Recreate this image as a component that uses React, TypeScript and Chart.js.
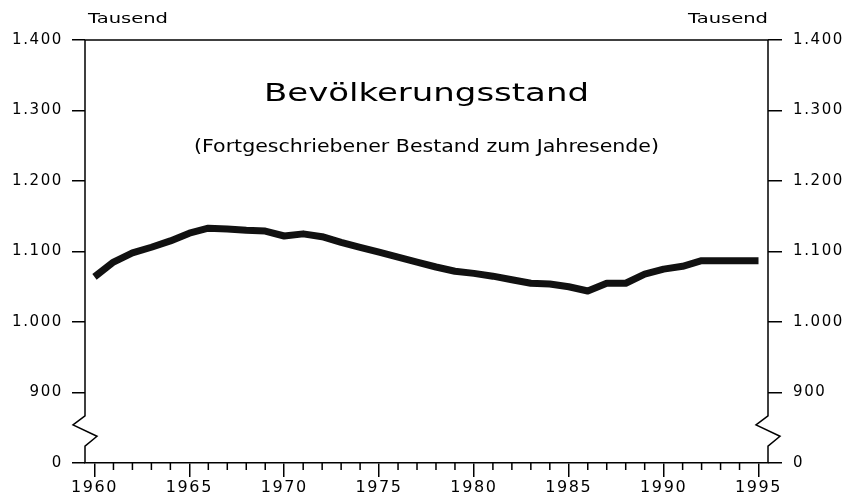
import React, { useEffect, useRef } from 'react';
import { Chart, registerables } from 'chart.js';

Chart.register(...registerables);

const years = [
  1960, 1961, 1962, 1963, 1964, 1965, 1966, 1967, 1968, 1969,
  1970, 1971, 1972, 1973, 1974, 1975, 1976, 1977, 1978, 1979,
  1980, 1981, 1982, 1983, 1984, 1985, 1986, 1987, 1988, 1989,
  1990, 1991, 1992, 1993, 1994, 1995,
];
const population = [
  1064, 1085, 1098, 1106, 1115, 1126, 1133, 1132, 1130, 1129,
  1122, 1125, 1121, 1113, 1106, 1099, 1092, 1085, 1078, 1072,
  1069, 1065, 1060, 1055, 1054, 1050, 1044, 1055, 1055, 1068,
  1075, 1079, 1087, 1087, 1087, 1087,
];
const yTicks = [800, 900, 1000, 1100, 1200, 1300, 1400];
const yTickLabels = ['0', '900', '1.000', '1.100', '1.200', '1.300', '1.400'];
const titleText = 'Bevölkerungsstand';
const subtitleText = '(Fortgeschriebener Bestand zum Jahresende)';
const unitText = 'Tausend';

const FONT = '"DejaVu Sans", "Liberation Sans", Arial, sans-serif';

function fitText(ctx: CanvasRenderingContext2D, text: string, size: number, x: number, y: number, width: number, align: CanvasTextAlign) {
  ctx.save();
  ctx.letterSpacing = '0px';
  ctx.font = `${size}px ${FONT}`;
  const w = ctx.measureText(text).width;
  const sx = width / w;
  ctx.translate(x, y);
  ctx.scale(sx, 1);
  ctx.textAlign = align;
  ctx.textBaseline = 'alphabetic';
  ctx.fillStyle = '#000';
  ctx.fillText(text, 0, 0);
  ctx.restore();
}

const decor = {
  id: 'decor',
  beforeDraw(chart: any) {
    chart.ctx.letterSpacing = '1.6px';
  },
  afterDraw(chart: any) {
    const ctx: CanvasRenderingContext2D = chart.ctx;
    const { left, right, top, bottom } = chart.chartArea;
    const ys = chart.scales.y;
    const xs = chart.scales.x;
    ctx.save();
    ctx.letterSpacing = '0px';
    ctx.strokeStyle = '#000';
    ctx.lineWidth = 1.5;
    // top frame line
    ctx.beginPath();
    ctx.moveTo(left, top);
    ctx.lineTo(right, top);
    ctx.stroke();
    // vertical axes with break
    const yHi = ys.getPixelForValue(867);
    const yB = ys.getPixelForValue(854);
    const yA = ys.getPixelForValue(838);
    const yLo = ys.getPixelForValue(824);
    for (const x of [left, right]) {
      ctx.beginPath();
      ctx.moveTo(x, top);
      ctx.lineTo(x, yHi);
      ctx.lineTo(x - 12, yB);
      ctx.lineTo(x + 12, yA);
      ctx.lineTo(x, yLo);
      ctx.lineTo(x, bottom);
      ctx.stroke();
    }
    // minor year ticks
    ctx.beginPath();
    for (const yr of years) {
      if (yr % 5 === 0) continue;
      const px = xs.getPixelForValue(yr);
      ctx.moveTo(px, bottom);
      ctx.lineTo(px, bottom + 7);
    }
    ctx.stroke();
    ctx.restore();

    const cx = (left + right) / 2;
    fitText(ctx, titleText, 25, cx, 101, 325, 'center');
    fitText(ctx, subtitleText, 17, cx, 152, 465, 'center');
    fitText(ctx, unitText, 14, 88, 23, 80, 'left');
    fitText(ctx, unitText, 14, 768, 23, 80, 'right');
    ctx.letterSpacing = '0px';
  },
};

export default function App() {
  const ref = useRef<HTMLCanvasElement>(null);
  useEffect(() => {
    if (!ref.current) return;
    const tickFont = (size: number) => ({ family: FONT, size });
    const chart = new Chart(ref.current, {
      type: 'line',
      data: {
        datasets: [
          {
            data: years.map((x, i) => ({ x, y: population[i] })),
            borderColor: '#111',
            borderWidth: 7,
            pointRadius: 0,
            tension: 0,
            borderCapStyle: 'butt',
            borderJoinStyle: 'round',
          },
        ],
      },
      options: {
        responsive: false,
        animation: false,
        devicePixelRatio: 1,
        layout: { padding: { top: 40, left: 0, right: 0, bottom: 0 } },
        plugins: { legend: { display: false }, tooltip: { enabled: false }, title: { display: false } },
        scales: {
          x: {
            type: 'linear',
            min: 1959.5,
            max: 1995.5,
            afterBuildTicks: (s: any) => { s.ticks = years.map((v) => ({ value: v })); },
            afterFit: (s: any) => { s.height = 34; },
            ticks: {
              autoSkip: false,
              maxRotation: 0,
              padding: 1,
              color: '#000',
              font: tickFont(16),
              callback: (v: any) => (Number(v) % 5 === 0 ? String(v) : ''),
            },
            grid: {
              drawOnChartArea: false,
              drawTicks: true,
              tickLength: 14,
              lineWidth: 1.5,
              color: '#000',
              tickColor: (c: any) => (c.tick && c.tick.value % 5 === 0 ? '#000' : 'rgba(0,0,0,0)'),
            },
            border: { display: true, color: '#000', width: 1.5 },
          },
          y: {
            type: 'linear',
            position: 'left',
            min: 800,
            max: 1400,
            afterBuildTicks: (s: any) => { s.ticks = yTicks.map((v) => ({ value: v })); },
            afterFit: (s: any) => { s.width = 85; },
            ticks: {
              padding: 9,
              color: '#000',
              font: tickFont(15),
              callback: (v: any) => yTickLabels[yTicks.indexOf(Number(v))] ?? '',
            },
            grid: { drawOnChartArea: false, tickLength: 13, color: '#000', lineWidth: 1.5 },
            border: { display: false },
          },
          y2: {
            type: 'linear',
            position: 'right',
            min: 800,
            max: 1400,
            afterBuildTicks: (s: any) => { s.ticks = yTicks.map((v) => ({ value: v })); },
            afterFit: (s: any) => { s.width = 82; },
            ticks: {
              padding: 11,
              color: '#000',
              font: tickFont(15),
              callback: (v: any) => yTickLabels[yTicks.indexOf(Number(v))] ?? '',
            },
            grid: { drawOnChartArea: false, tickLength: 14, color: '#000', lineWidth: 1.5 },
            border: { display: false },
          },
        },
      },
      plugins: [decor],
    } as any);
    return () => chart.destroy();
  }, []);
  return (
    <div style={{ position: 'absolute', left: 0, top: 0, width: 850, height: 497, background: '#fff' }}>
      <canvas ref={ref} width={850} height={497} />
    </div>
  );
}
